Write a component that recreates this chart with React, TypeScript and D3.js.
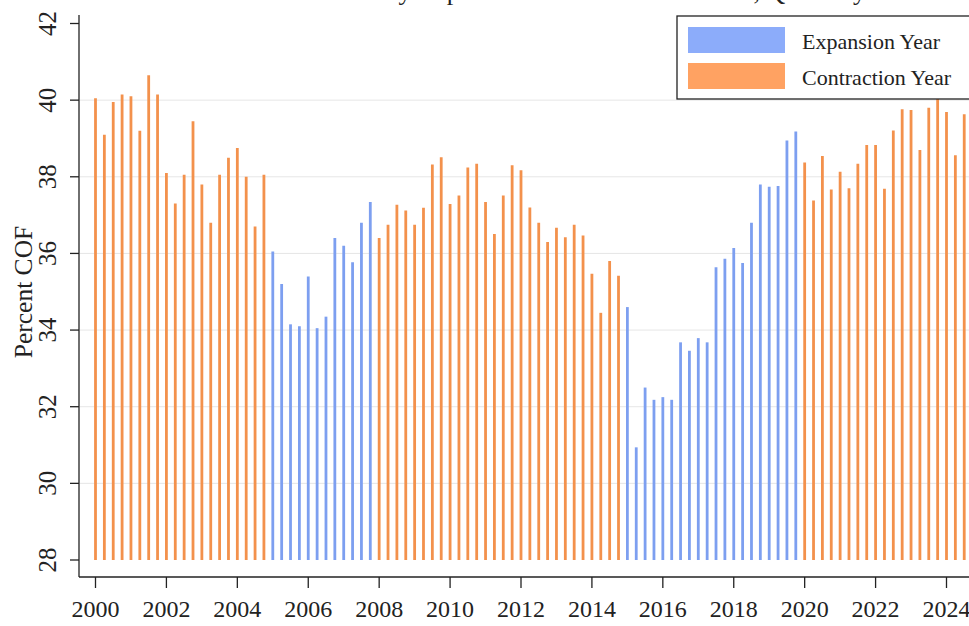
// App.tsx
import React, { useRef, useEffect } from "react";
import * as d3 from "d3";

// quarterly Percent COF, starting 2000 Q1
const values = [
  40.05, 39.1, 39.95, 40.15, 40.1, 39.2, 40.65, 40.15,
  38.1, 37.3, 38.05, 39.45, 37.8, 36.8, 38.05, 38.5,
  38.75, 38.0, 36.7, 38.05,
  36.05, 35.2, 34.15, 34.1, 35.4, 34.05, 34.35, 36.4,
  36.2, 35.77, 36.8, 37.34,
  36.4, 36.75, 37.27, 37.12, 36.75, 37.19, 38.32, 38.51,
  37.29, 37.51, 38.24, 38.34, 37.34, 36.51, 37.51, 38.3,
  38.17, 37.2, 36.8, 36.3, 36.67, 36.42, 36.75, 36.47,
  35.47, 34.45, 35.8, 35.42,
  34.6, 30.94, 32.5, 32.18, 32.25, 32.18, 33.68, 33.46,
  33.79, 33.68, 35.64, 35.86, 36.14, 35.75, 36.8, 37.8,
  37.74, 37.76, 38.95, 39.18,
  38.37, 37.38, 38.54, 37.67, 38.13, 37.7, 38.34, 38.83,
  38.83, 37.69, 39.21, 39.76, 39.74, 38.7, 39.8, 40.08,
  39.69, 38.56, 39.63,
];
const startYear = 2000;
const expansionYears = [2005, 2006, 2007, 2015, 2016, 2017, 2018, 2019];
const yTicks = [28, 30, 32, 34, 36, 38, 40, 42];
const gridTicks = [30, 32, 34, 36, 38, 40];
const xTicks = [2000, 2002, 2004, 2006, 2008, 2010, 2012, 2014, 2016, 2018, 2020, 2022, 2024, 2026];
const legendItems = ["Expansion Year", "Contraction Year"];

const W = 969, H = 626;
const barBlue = "#7d9ff0";
const barOrange = "#f3914c";
const swBlue = "#8cacfa";
const swOrange = "#ffa262";
const font = "'Liberation Serif', 'Times New Roman', serif";

const App = () => {
  const ref = useRef<SVGSVGElement>(null);

  useEffect(() => {
    const svg = d3.select(ref.current);
    svg.selectAll("*").remove();

    const x = d3.scaleLinear().domain([2000, 2024]).range([95.5, 946.5]);
    const y = d3.scaleLinear().domain([28, 42]).range([560, 23.5]);

    svg.append("rect").attr("width", W).attr("height", H).attr("fill", "#fff");

    // gridlines
    svg.append("g")
      .selectAll("line")
      .data(gridTicks)
      .join("line")
      .attr("x1", 80).attr("x2", W)
      .attr("y1", (d) => y(d)).attr("y2", (d) => y(d))
      .attr("stroke", "#e6e6e6").attr("stroke-width", 1);

    // bars (spikes)
    const data = values.map((v, i) => {
      const t = startYear + i / 4;
      return { t, v, exp: expansionYears.includes(Math.floor(t)) };
    });
    svg.append("g")
      .selectAll("line")
      .data(data)
      .join("line")
      .attr("x1", (d) => x(d.t)).attr("x2", (d) => x(d.t))
      .attr("y1", y(28)).attr("y2", (d) => y(d.v))
      .attr("stroke", (d) => (d.exp ? barBlue : barOrange))
      .attr("stroke-width", 2.8);

    // left axis
    const yAxis = svg.append("g").attr("transform", "translate(79,0)");
    yAxis.append("line").attr("x1", 0).attr("x2", 0).attr("y1", 15).attr("y2", 577)
      .attr("stroke", "#222").attr("stroke-width", 1.3);
    yTicks.forEach((t) => {
      yAxis.append("line").attr("x1", -9).attr("x2", 0).attr("y1", y(t)).attr("y2", y(t))
        .attr("stroke", "#222").attr("stroke-width", 1.3);
      yAxis.append("text")
        .attr("transform", `translate(-23,${y(t)}) rotate(-90)`)
        .attr("text-anchor", "middle")
        .attr("font-family", font).attr("font-size", 25).attr("fill", "#222")
        .text(t);
    });

    // bottom axis
    const xAxis = svg.append("g").attr("transform", "translate(0,577)");
    xAxis.append("line").attr("x1", 79).attr("x2", W).attr("y1", 0).attr("y2", 0)
      .attr("stroke", "#222").attr("stroke-width", 1.3);
    xTicks.forEach((t) => {
      xAxis.append("line").attr("x1", x(t)).attr("x2", x(t)).attr("y1", 0).attr("y2", 11)
        .attr("stroke", "#222").attr("stroke-width", 1.3);
      xAxis.append("text")
        .attr("x", x(t)).attr("y", 40)
        .attr("text-anchor", "middle")
        .attr("font-family", font).attr("font-size", 24).attr("fill", "#222")
        .text(t);
    });

    // y title
    svg.append("text")
      .attr("transform", "translate(32,292) rotate(-90)")
      .attr("text-anchor", "middle")
      .attr("font-family", font).attr("font-size", 25.5).attr("fill", "#222")
      .text("Percent COF");

    // title, mostly above the top edge as in the source crop
    svg.append("text")
      .attr("x", 555).attr("y", 0)
      .attr("text-anchor", "middle")
      .attr("font-family", font).attr("font-size", 26).attr("fill", "#222")
      .text("Percent COF by Expansion and Contraction Year, Quarterly");

    // legend
    const lg = svg.append("g");
    lg.append("rect").attr("x", 677).attr("y", 16).attr("width", 320).attr("height", 83)
      .attr("fill", "#fff").attr("stroke", "#222").attr("stroke-width", 1.3);
    legendItems.forEach((name, i) => {
      lg.append("rect").attr("x", 688).attr("y", 27 + i * 36).attr("width", 97).attr("height", 26)
        .attr("fill", i === 0 ? swBlue : swOrange);
      lg.append("text").attr("x", 802).attr("y", 49 + i * 36)
        .attr("font-family", font).attr("font-size", 22).attr("fill", "#222")
        .text(name);
    });
  }, []);

  return (
    <svg
      ref={ref}
      width={W}
      height={H}
      style={{ position: "absolute", left: 0, top: 0, display: "block" }}
    />
  );
};

export default App;
